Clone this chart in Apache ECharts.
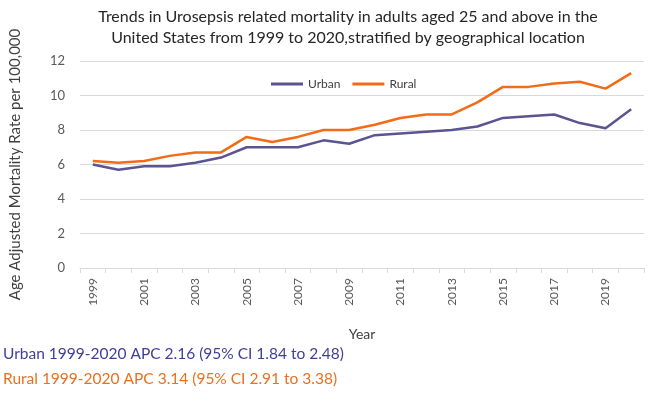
<!DOCTYPE html>
<html>
<head>
<meta charset="utf-8">
<script src="https://cdn.jsdelivr.net/npm/echarts@6/dist/echarts.min.js"></script>
<style>
  html, body { margin: 0; padding: 0; background: #fff; }
  #chart-container { width: 650px; height: 399px; }
</style>
</head>
<body>
<div id="chart-container"></div>
<script>
// data
let years = ['1999', '2000', '2001', '2002', '2003', '2004', '2005', '2006', '2007', '2008', '2009',
    '2010', '2011', '2012', '2013', '2014', '2015', '2016', '2017', '2018', '2019', '2020'];
let urban = [6.0, 5.7, 5.9, 5.9, 6.1, 6.4, 7.0, 7.0, 7.0, 7.4, 7.2, 7.7, 7.8, 7.9, 8.0, 8.2, 8.7, 8.8, 8.9, 8.4, 8.1, 9.2];
let rural = [6.2, 6.1, 6.2, 6.5, 6.7, 6.7, 7.6, 7.3, 7.6, 8.0, 8.0, 8.3, 8.7, 8.9, 8.9, 9.6, 10.5, 10.5, 10.7, 10.8, 10.4, 11.3];
let urbanNote = 'Urban 1999-2020 APC 2.16 (95% CI 1.84 to 2.48)';
let ruralNote = 'Rural 1999-2020 APC 3.14 (95% CI 2.91 to 3.38)';

let font = 'Lato, "Open Sans", sans-serif';
let dom = document.getElementById('chart-container');
let myChart = echarts.init(dom, null, { renderer: 'canvas' });

let option = {
    animation: false,
    backgroundColor: '#fff',
    textStyle: { fontFamily: font },
    title: {
        text: 'Trends in Urosepsis related mortality in adults aged 25 and above in the\nUnited States from 1999 to 2020,stratified by geographical location',
        left: 343,
        top: 1,
        textAlign: 'center',
        textStyle: {
            fontFamily: font,
            fontSize: 16,
            fontWeight: 'normal',
            color: '#262626',
            lineHeight: 21
        }
    },
    legend: {
        left: 266,
        top: 73,
        icon: 'rect',
        itemWidth: 32,
        itemHeight: 3,
        itemGap: 12,
        textStyle: { fontFamily: font, fontSize: 12, color: '#404040' },
        data: ['Urban', 'Rural']
    },
    grid: {
        left: 68,
        right: 6,
        top: 61,
        bottom: 131,
        containLabel: false
    },
    xAxis: {
        type: 'category',
        data: years,
        boundaryGap: true,
        name: 'Year',
        nameLocation: 'middle',
        nameGap: 59,
        nameTextStyle: { fontFamily: font, fontSize: 14, color: '#404040' },
        axisLine: { lineStyle: { color: '#d9d9d9', width: 1 } },
        axisTick: { show: true, interval: 0, length: 5, lineStyle: { color: '#d9d9d9' } },
        axisLabel: {
            interval: 1,
            rotate: 90,
            margin: 10,
            fontSize: 12,
            color: '#595959',
            fontFamily: font
        },
        splitLine: { show: false }
    },
    yAxis: {
        type: 'value',
        min: 0,
        max: 12,
        interval: 2,
        name: 'Age Adjusted Mortality Rate per 100,000',
        nameLocation: 'middle',
        nameGap: 57,
        nameTextStyle: { fontFamily: font, fontSize: 15, color: '#404040' },
        axisLine: { show: false },
        axisTick: { show: false },
        axisLabel: { fontSize: 13, color: '#595959', margin: 15, fontFamily: font },
        splitLine: { lineStyle: { color: '#d9d9d9', width: 1 } }
    },
    series: [
        {
            name: 'Urban',
            type: 'line',
            data: urban,
            symbol: 'none',
            itemStyle: { color: '#5a5592' },
            lineStyle: { color: '#5a5592', width: 2.5 }
        },
        {
            name: 'Rural',
            type: 'line',
            data: rural,
            symbol: 'none',
            itemStyle: { color: '#f26b17' },
            lineStyle: { color: '#f26b17', width: 2.5 }
        }
    ],
    graphic: [
        {
            type: 'text',
            left: 3,
            top: 346,
            style: { text: urbanNote, fontFamily: font, fontSize: 15.5, fill: '#403e98' }
        },
        {
            type: 'text',
            left: 3,
            top: 371,
            style: { text: ruralNote, fontFamily: font, fontSize: 15.5, fill: '#e8711f' }
        }
    ]
};

myChart.setOption(option);
window.addEventListener('resize', myChart.resize);
</script>
</body>
</html>
